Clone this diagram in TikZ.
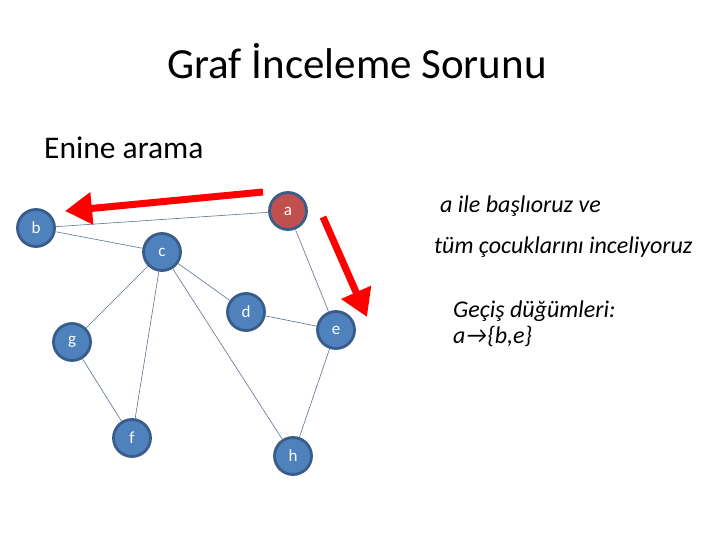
\documentclass[tikz,border=0pt]{standalone}
\usepackage{fontspec}
\setmainfont{Carlito}
\usetikzlibrary{arrows.meta}
\definecolor{nodeblue}{RGB}{79,129,189}
\definecolor{nodered}{RGB}{192,80,77}
\definecolor{rimblue}{RGB}{56,93,138}
\definecolor{edgecol}{RGB}{90,115,145}
\definecolor{arrred}{RGB}{255,0,0}
\tikzset{
  x=1pt, y=-1pt,
  gnode/.style={circle, draw=rimblue, line width=2.8pt, fill=nodeblue, minimum size=37pt, inner sep=0pt, text=white, font=\fontsize{17}{19}\selectfont},
  rednode/.style={gnode, fill=nodered},
  gedge/.style={draw=edgecol, line width=0.6pt},
  bigarrow/.style={draw=arrred, line width=7pt, -{Triangle[length=27pt,width=31pt]}},
  sidetext/.style={anchor=base west, inner sep=0pt, font=\fontsize{24}{28}\selectfont\itshape}
}
\begin{document}
\begin{tikzpicture}
\useasboundingbox (0,0) rectangle (720,540);
\node[anchor=base, inner sep=0pt, font=\fontsize{43}{50}\selectfont] (title) at (357,79) {Graf İnceleme Sorunu};
\node[anchor=base west, inner sep=0pt, font=\fontsize{31.5}{38}\selectfont] (sub) at (44,159) {Enine arama};

\node[rednode] (a) at (288,211) {a};
\node[gnode] (b) at (36,228) {b};
\node[gnode] (c) at (162,252) {c};
\node[gnode] (d) at (246,312) {d};
\node[gnode] (e) at (336,330) {e};
\node[gnode] (g) at (72,342) {g};
\node[gnode] (f) at (132,438) {f};
\node[gnode] (h) at (293,456) {h};

\draw[gedge] (a) -- (b);
\draw[gedge] (b) -- (c);
\draw[gedge] (c) -- (g);
\draw[gedge] (c) -- (f);
\draw[gedge] (c) -- (h);
\draw[gedge] (c) -- (d);
\draw[gedge] (d) -- (e);
\draw[gedge] (a) -- (e);
\draw[gedge] (e) -- (h);
\draw[gedge] (g) -- (f);

\coordinate (r1s) at (263,192);
\coordinate (r1e) at (65,211);
\coordinate (r2s) at (323,217);
\coordinate (r2e) at (367,317);
\draw[bigarrow] (r1s) -- (r1e);
\draw[bigarrow] (r2s) -- (r2e);

\node[sidetext] (t1) at (440,213) {a ile başlıoruz ve};
\node[sidetext] (t2) at (434,253) {tüm çocuklarını inceliyoruz};
\node[sidetext] (t3) at (453,317) {Geçiş düğümleri:};
\node[sidetext] (t4) at (453,343) {a→\{b,e\}};
\end{tikzpicture}
\end{document}
